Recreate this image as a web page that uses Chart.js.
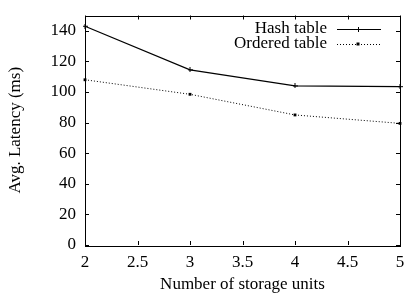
<!DOCTYPE html>
<html><head><meta charset="utf-8">
<script src="https://cdn.jsdelivr.net/npm/chart.js@4"></script>
<style>html,body{margin:0;padding:0;background:#fff;overflow:hidden}</style>
</head><body>
<canvas id="c" width="404" height="295"></canvas>
<script>
const units = [2, 3, 4, 5];
const hashTable = [143, 114.5, 104, 103.5];
const orderedTable = [108, 98.5, 85, 79.5];
const seriesNames = ['Hash table', 'Ordered table'];
const xTicks = [2, 2.5, 3, 3.5, 4, 4.5, 5];
const yTicks = [0, 20, 40, 60, 80, 100, 120, 140];

const FONT = 'Liberation Serif';
const FS = 17;

function plusMarker(size){
  const c = document.createElement('canvas'); c.width = size; c.height = size;
  const g = c.getContext('2d'); g.strokeStyle = '#000'; g.lineWidth = 1;
  const m = size/2;
  g.beginPath(); g.moveTo(0,m); g.lineTo(size,m); g.moveTo(m,0); g.lineTo(m,size); g.stroke();
  return c;
}

function zeroPad(s){ s.paddingTop = 0; s.paddingBottom = 0; s.paddingLeft = 0; s.paddingRight = 0; }

const innerTicks = {
  id: 'innerTicks',
  afterDraw(chart){
    const ctx = chart.ctx, a = chart.chartArea, x = chart.scales.x, y = chart.scales.y;
    ctx.save(); ctx.strokeStyle = '#000'; ctx.lineWidth = 1;
    ctx.beginPath();
    xTicks.forEach(v => {
      const px = Math.round(x.getPixelForValue(v)) + 0.5;
      ctx.moveTo(px, a.bottom); ctx.lineTo(px, a.bottom - 4);
      ctx.moveTo(px, a.top); ctx.lineTo(px, a.top + 4);
    });
    yTicks.forEach(v => {
      const py = Math.round(y.getPixelForValue(v)) + 0.5;
      ctx.moveTo(a.left, py); ctx.lineTo(a.left + 4, py);
      ctx.moveTo(a.right, py); ctx.lineTo(a.right - 4, py);
    });
    ctx.stroke();
    ctx.lineWidth = 1;
    ctx.strokeRect(Math.round(a.left)+0.5, Math.round(a.top)+0.5, Math.round(a.right-a.left), Math.round(a.bottom-a.top));
    ctx.font = FS + 'px "' + FONT + '"';
    ctx.fillStyle = '#000'; ctx.textAlign = 'right'; ctx.textBaseline = 'middle';
    const rows = [
      {name: seriesNames[0], y: 29, dash: [], w: 1.2, marker: 'plus'},
      {name: seriesNames[1], y: 44, dash: [1,2], w: 1, marker: 'sq'}
    ];
    rows.forEach(r => {
      ctx.fillText(r.name, 327, r.y);
      ctx.save(); ctx.setLineDash(r.dash); ctx.lineWidth = r.w;
      ctx.beginPath(); ctx.moveTo(337, r.y + 0.5); ctx.lineTo(381, r.y + 0.5); ctx.stroke();
      ctx.restore();
      if (r.marker === 'sq') { ctx.fillRect(356.5, r.y - 1.5, 3, 3); }
      else { ctx.beginPath(); ctx.moveTo(356, r.y+0.5); ctx.lineTo(361, r.y+0.5); ctx.moveTo(358.5, r.y-2); ctx.lineTo(358.5, r.y+3); ctx.stroke(); }
    });
    ctx.restore();
  }
};

new Chart(document.getElementById('c'), {
  type: 'line',
  data: {
    datasets: [
      { label: seriesNames[0], data: units.map((u,i)=>({x:u,y:hashTable[i]})),
        borderColor: '#000', borderWidth: 1.2, pointStyle: plusMarker(5), pointRadius: 3, tension: 0, clip: false },
      { label: seriesNames[1], data: units.map((u,i)=>({x:u,y:orderedTable[i]})),
        borderColor: '#000', borderWidth: 1, borderDash: [1,2], pointStyle: 'rect', pointRadius: 2,
        pointBackgroundColor: '#000', pointBorderColor: '#000', pointBorderWidth: 0, tension: 0, clip: false }
    ]
  },
  options: {
    responsive: false, animation: false, devicePixelRatio: 1,
    layout: { autoPadding: false, padding: { left: 0, right: 4, top: 15.5, bottom: 0 } },
    plugins: { legend: { display: false }, tooltip: { enabled: false } },
    scales: {
      x: {
        type: 'linear', min: 2, max: 5,
        afterBuildTicks(s){ s.ticks = xTicks.map(v => ({value: v})); },
        afterFit(s){ s.height = 50; zeroPad(s); },
        grid: { display: false, drawTicks: false },
        border: { display: false },
        ticks: { color: '#000', font: { family: FONT, size: FS }, padding: 7, maxRotation: 0, autoSkip: false, callback: v => String(v) },
        title: { display: true, text: 'Number of storage units', color: '#000', font: { family: FONT, size: FS }, padding: { top: 1, bottom: 0 } }
      },
      y: {
        min: 0, max: 150,
        afterBuildTicks(s){ s.ticks = yTicks.map(v => ({value: v})); },
        afterFit(s){ s.width = 85; zeroPad(s); },
        grid: { display: false, drawTicks: false },
        border: { display: false },
        ticks: { color: '#000', font: { family: FONT, size: FS }, padding: 9, callback: v => String(v) },
        title: { display: true, text: 'Avg. Latency (ms)', color: '#000', font: { family: FONT, size: FS }, padding: { top: 5, bottom: 0 } }
      }
    }
  },
  plugins: [innerTicks]
});
</script>
</body></html>
